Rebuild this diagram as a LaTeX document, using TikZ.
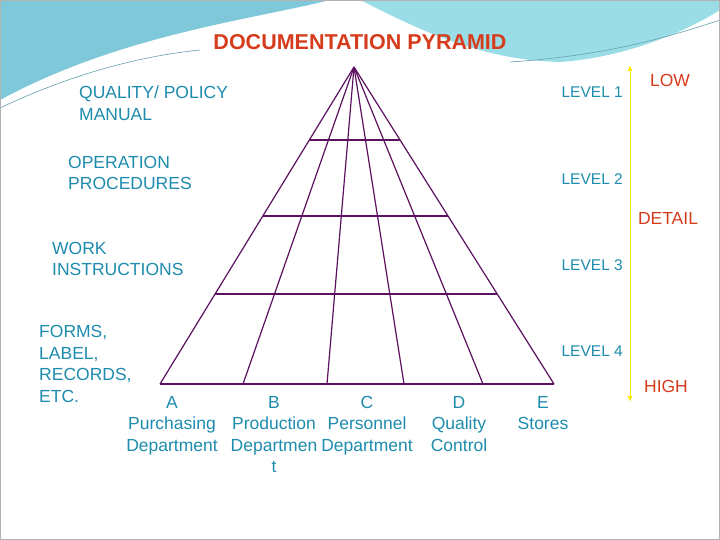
\documentclass[tikz,border=0pt]{standalone}
\usepackage{fontspec}
\setmainfont{Liberation Sans}
\usetikzlibrary{calc,arrows.meta}
\definecolor{lab}{HTML}{1E8CAE}
\definecolor{redt}{HTML}{D63C1C}
\definecolor{pur}{HTML}{5C1060}
\definecolor{sw1}{HTML}{7FC8DA}
\definecolor{sw2}{HTML}{9ADDE6}
\tikzset{
  lbl/.style={text=lab,font=\fontsize{17.5}{21.5}\selectfont,inner sep=0pt},
  lvl/.style={lbl,font=\fontsize{15.5}{18}\selectfont,anchor=east},
  side/.style={lbl,anchor=west,align=left},
  dept/.style={lbl,align=center,anchor=north},
  red/.style={text=redt,font=\fontsize{17.5}{20}\selectfont,inner sep=0pt},
  pl/.style={draw=pur,line width=1.2pt},
}
\begin{document}
\begin{tikzpicture}[x=1pt,y=-1pt]
\useasboundingbox (0,0) rectangle (720,540);
\fill[white] (0,0) rectangle (720,540);
% decorative swoosh
\fill[sw1] (0,0) -- (330,0) .. controls (250,20) and (120,35) .. (0,100) -- cycle;
\fill[sw2] (360,0) .. controls (420,30) and (480,60) .. (560,62) .. controls (620,58) and (680,35) .. (720,10) -- (720,0) -- cycle;
\draw[sw1!80!black,line width=0.6pt] (0,108) .. controls (80,70) and (150,55) .. (200,50);
\draw[sw1!80!black,line width=0.6pt] (510,62) .. controls (600,56) and (660,40) .. (720,20);
\draw[gray!60,line width=1pt] (0.5,0.5) rectangle (719.5,539.5);
% title
\node[text=redt,font=\fontsize{21.5}{24}\selectfont\bfseries,inner sep=0pt] (title) at (360,42) {DOCUMENTATION PYRAMID};
% pyramid
\coordinate (apex) at (354,67);
\foreach \n/\x in {0/160,1/243,2/327,3/404,4/483,5/554} \coordinate (b\n) at (\x,384);
\foreach \n in {0,...,5} \draw[pl] (apex) -- (b\n);
\draw[pl] (b0) -- (b5);
\foreach \t in {0.230,0.470,0.716} \draw[pl] ($(apex)!\t!(b0)$) -- ($(apex)!\t!(b5)$);
% left labels
\node[side] (q) at (79,103) {QUALITY/ POLICY\\MANUAL};
\node[side] (o) at (68,173) {OPERATION\\PROCEDURES};
\node[side] (w) at (52,259) {WORK\\INSTRUCTIONS};
\node[side] (f) at (39,364) {FORMS,\\LABEL,\\RECORDS,\\ETC.};
% levels
\node[lvl] (l1) at (623,92) {LEVEL 1};
\node[lvl] (l2) at (623,179) {LEVEL 2};
\node[lvl] (l3) at (623,265) {LEVEL 3};
\node[lvl] (l4) at (623,351) {LEVEL 4};
% arrow
\coordinate (at) at (630,65);
\coordinate (ab) at (630,402);
\draw[yellow!90!orange,line width=1pt,{Latex[length=6pt,width=5pt]}-{Latex[length=6pt,width=5pt]}] (at) -- (ab);
\node[red] (low) at (670,80) {LOW};
\node[red] (det) at (668,218) {DETAIL};
\node[red] (high) at (666,386) {HIGH};
% departments
\node[dept] (da) at (172,396) {A\\Purchasing\\Department};
\node[dept] (db) at (274,396) {B\\Production\\Departmen\\t};
\node[dept] (dc) at (367,396) {C\\Personnel\\Department};
\node[dept] (dd) at (459,396) {D\\Quality\\Control};
\node[dept] (de) at (543,396) {E\\Stores};
\end{tikzpicture}
\end{document}
